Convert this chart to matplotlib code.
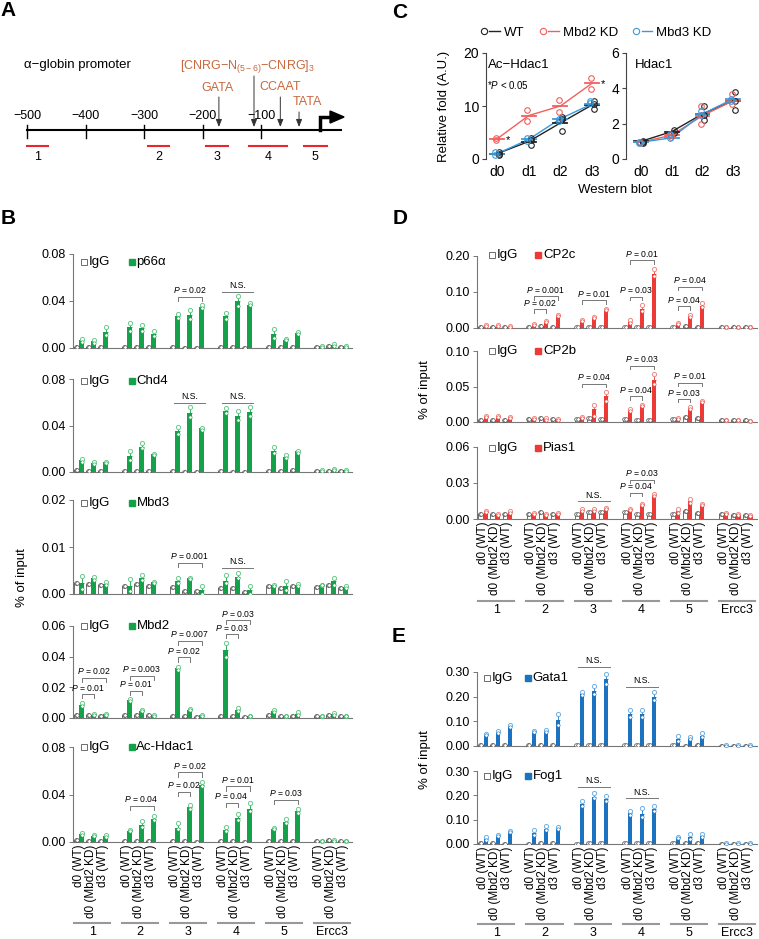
import numpy as np
import matplotlib
matplotlib.use('Agg')
from matplotlib import pyplot as plt
from matplotlib.patches import Polygon
from matplotlib.ticker import FormatStrFormatter
from matplotlib.transforms import blended_transform_factory
from matplotlib.legend_handler import HandlerTuple

plt.rcParams['font.family'] = ['Liberation Sans', 'DejaVu Sans']
plt.rcParams['mathtext.fontset'] = 'custom'
plt.rcParams['mathtext.rm'] = 'Liberation Sans'
plt.rcParams['mathtext.it'] = 'Liberation Sans:italic'

# ---------------- data ----------------
groups = ['1', '2', '3', '4', '5', 'Ercc3']
conditions = ['d0 (WT)', 'd0 (Mbd2 KD)', 'd3 (WT)']

# A: alpha-globin promoter (bp from TSS)
promoter_ticks = [-500, -400, -300, -200, -100]
amplicons = [(-500, -464), (-293, -257), (-194, -157), (-120, -56), (-27, 12)]
motif_pos = [-172, -112, -67, -35]
motif_label_x = [-174, -124, -67, -21]
motif_names = ['GATA', r'[CNRG−N$_{\mathregular{(5-6)}}$−CNRG]$_{\mathregular{3}}$', 'CCAAT', 'TATA']

# C: western blot quantification
days = ['d0', 'd1', 'd2', 'd3']
ach_wt = [1.0, 3.3, 6.8, 10.2]
ach_wt_pts = [[1.0, 1.3, 0.8], [2.7, 3.6, 4.0], [8.0, 7.5, 5.3], [11.0, 10.3, 9.5]]
ach_mbd2 = [3.8, 8.2, 10.0, 14.3]
ach_mbd2_pts = [[4.0, 3.6], [9.2, 7.1], [11.2, 8.9], [15.2, 13.3]]
ach_mbd3 = [1.0, 3.7, 7.6, 10.4]
ach_mbd3_pts = [[1.3, 0.7], [4.0, 3.4], [7.5, 7.2], [11.0, 10.5]]
hdac_wt = [1.0, 1.55, 2.55, 3.3]
hdac_wt_pts = [[1.0, 0.95, 0.9], [1.65, 1.5], [3.0, 2.2, 2.5], [3.8, 3.3, 2.8]]
hdac_mbd2 = [0.95, 1.35, 2.45, 3.3]
hdac_mbd2_pts = [[0.95, 0.9], [1.35, 1.25], [2.0, 2.5, 3.0], [3.7, 3.1]]
hdac_mbd3 = [0.95, 1.2, 2.55, 3.4]
hdac_mbd3_pts = [[0.95, 0.9], [1.2, 1.4], [2.5, 2.7], [3.4, 3.3]]

# B: ChIP, % of input (IgG, antibody mean, replicate high, replicate low)
p66a_igg = [0.0012, 0.001, 0.0012, 0.0008, 0.001, 0.001, 0.001, 0.0003, 0.0003, 0.001, 0.0005, 0.0003, 0.001, 0.0008, 0.001, 0.0008, 0.0015, 0.0008]
p66a_mean = [0.0065, 0.0058, 0.014, 0.0175, 0.017, 0.012, 0.027, 0.028, 0.035, 0.027, 0.040, 0.037, 0.012, 0.007, 0.0125, 0.0013, 0.0024, 0.0013]
p66a_hi = [0.0075, 0.007, 0.018, 0.021, 0.0195, 0.0147, 0.029, 0.0325, 0.037, 0.0295, 0.044, 0.0385, 0.016, 0.0078, 0.0132, 0.0016, 0.003, 0.0016]
p66a_lo = [0.0055, 0.0045, 0.011, 0.0145, 0.0145, 0.0098, 0.0255, 0.0245, 0.034, 0.025, 0.036, 0.0365, 0.0085, 0.0065, 0.0122, 0.001, 0.0018, 0.001]
p66a_p = [(2, 0, 2, 0.0438, 'P = 0.02'), (3, 0, 2, 0.048, 'N.S.')]

chd4_igg = [0.0015, 0.001, 0.001, 0.001, 0.001, 0.0012, 0.0005, 0.0003, 0.0003, 0.0005, 0.0003, 0.0003, 0.0012, 0.0005, 0.0015, 0.0008, 0.0012, 0.0008]
chd4_mean = [0.010, 0.0077, 0.0086, 0.0134, 0.0214, 0.0154, 0.0354, 0.0507, 0.0377, 0.0528, 0.048, 0.0519, 0.0183, 0.0129, 0.0177, 0.0013, 0.002, 0.0015]
chd4_hi = [0.011, 0.0085, 0.0087, 0.0177, 0.025, 0.0157, 0.039, 0.0556, 0.038, 0.0548, 0.0528, 0.056, 0.0214, 0.0149, 0.0178, 0.0015, 0.0022, 0.0018]
chd4_lo = [0.0086, 0.007, 0.008, 0.0106, 0.0206, 0.015, 0.033, 0.0476, 0.036, 0.0506, 0.0445, 0.048, 0.0163, 0.012, 0.0163, 0.001, 0.0015, 0.0012]
chd4_p = [(2, 0, 2, 0.0596, 'N.S.'), (3, 0, 2, 0.0596, 'N.S.')]

mbd3_igg = [0.0023, 0.0022, 0.002, 0.0018, 0.0022, 0.0018, 0.0014, 0.0007, 0.0006, 0.0013, 0.0013, 0.0004, 0.0017, 0.0013, 0.0017, 0.0015, 0.0019, 0.0012]
mbd3_mean = [0.0023, 0.0034, 0.0022, 0.0016, 0.0034, 0.0025, 0.0027, 0.0034, 0.0009, 0.0028, 0.0037, 0.0008, 0.0019, 0.0018, 0.0019, 0.002, 0.0027, 0.0015]
mbd3_hi = [0.0039, 0.0036, 0.0025, 0.0032, 0.0041, 0.0025, 0.0034, 0.0034, 0.0018, 0.0041, 0.0044, 0.0016, 0.002, 0.0027, 0.0022, 0.002, 0.0034, 0.0016]
mbd3_lo = [0.0011, 0.003, 0.0019, 0.0006, 0.003, 0.0023, 0.0023, 0.0032, 0.0001, 0.0023, 0.0034, 0.0, 0.0018, 0.0009, 0.0017, 0.0019, 0.0019, 0.0013]
mbd3_p = [(2, 0, 2, 0.0067, 'P = 0.001'), (3, 0, 2, 0.0055, 'N.S.')]

mbd2_igg = [0.002, 0.0018, 0.0015, 0.0018, 0.0018, 0.0018, 0.0015, 0.001, 0.0008, 0.0013, 0.0013, 0.0005, 0.0017, 0.0012, 0.0013, 0.0013, 0.0017, 0.0012]
mbd2_mean = [0.0086, 0.0022, 0.0023, 0.0119, 0.0048, 0.0015, 0.0324, 0.0054, 0.0017, 0.0443, 0.0054, 0.0013, 0.0045, 0.0013, 0.0028, 0.0012, 0.0025, 0.0012]
mbd2_hi = [0.0097, 0.0025, 0.0028, 0.0125, 0.005, 0.0017, 0.0335, 0.0057, 0.002, 0.0492, 0.0062, 0.0015, 0.005, 0.0015, 0.0037, 0.0014, 0.003, 0.0014]
mbd2_lo = [0.008, 0.002, 0.0018, 0.0108, 0.0045, 0.0013, 0.0313, 0.005, 0.0015, 0.0395, 0.0047, 0.0011, 0.004, 0.0011, 0.0022, 0.001, 0.002, 0.001]
mbd2_p = [(0, 0, 1, 0.0155, 'P = 0.01'), (0, 0, 2, 0.0263, 'P = 0.02'),
          (1, 0, 1, 0.0177, 'P = 0.01'), (1, 0, 2, 0.0274, 'P = 0.003'),
          (2, 0, 1, 0.0395, 'P = 0.02'), (2, 0, 2, 0.0503, 'P = 0.007'),
          (3, 0, 1, 0.0546, 'P = 0.03'), (3, 0, 2, 0.0637, 'P = 0.03')]

achip_igg = [0.0015, 0.001, 0.0012, 0.001, 0.0012, 0.0012, 0.0012, 0.0005, 0.0003, 0.0012, 0.0008, 0.0003, 0.0012, 0.001, 0.0012, 0.0012, 0.0015, 0.0008]
achip_mean = [0.0067, 0.0053, 0.0048, 0.0096, 0.014, 0.0197, 0.0121, 0.0292, 0.0483, 0.0104, 0.0202, 0.0278, 0.0112, 0.0166, 0.0258, 0.0008, 0.0012, 0.001]
achip_hi = [0.0073, 0.006, 0.0058, 0.0098, 0.0174, 0.022, 0.0157, 0.0309, 0.0503, 0.0124, 0.0239, 0.0329, 0.0115, 0.0194, 0.028, 0.001, 0.0014, 0.0012]
achip_lo = [0.006, 0.0048, 0.004, 0.0093, 0.0124, 0.0188, 0.011, 0.028, 0.0469, 0.0096, 0.0188, 0.0258, 0.011, 0.016, 0.0244, 0.0006, 0.001, 0.0008]
achip_p = [(1, 0, 2, 0.0306, 'P = 0.04'), (2, 0, 1, 0.0421, 'P = 0.02'), (2, 0, 2, 0.0587, 'P = 0.02'),
           (3, 0, 1, 0.0329, 'P = 0.04'), (3, 0, 2, 0.0469, 'P = 0.01'), (4, 0, 2, 0.0357, 'P = 0.03')]

# D
cp2c_igg = [0.003, 0.003, 0.003, 0.003, 0.005, 0.004, 0.003, 0.004, 0.004, 0.003, 0.003, 0.004, 0.003, 0.005, 0.004, 0.002, 0.002, 0.002]
cp2c_mean = [0.007, 0.0065, 0.004, 0.009, 0.019, 0.035, 0.021, 0.029, 0.053, 0.017, 0.054, 0.149, 0.012, 0.033, 0.062, 0.003, 0.003, 0.003]
cp2c_hi = [0.008, 0.0075, 0.0045, 0.010, 0.020, 0.037, 0.022, 0.030, 0.054, 0.023, 0.063, 0.165, 0.013, 0.036, 0.069, 0.0035, 0.0035, 0.0035]
cp2c_lo = [0.006, 0.0055, 0.0035, 0.008, 0.017, 0.033, 0.019, 0.027, 0.050, 0.014, 0.046, 0.144, 0.011, 0.031, 0.059, 0.0025, 0.0025, 0.0025]
cp2c_p = [(1, 0, 1, 0.052, 'P = 0.02'), (1, 0, 2, 0.088, 'P = 0.001'), (2, 0, 2, 0.077, 'P = 0.01'),
          (3, 0, 1, 0.086, 'P = 0.03'), (3, 0, 2, 0.188, 'P = 0.01'),
          (4, 0, 1, 0.060, 'P = 0.04'), (4, 0, 2, 0.114, 'P = 0.04')]

cp2b_igg = [0.003, 0.003, 0.003, 0.004, 0.005, 0.004, 0.004, 0.005, 0.004, 0.004, 0.003, 0.003, 0.004, 0.007, 0.005, 0.003, 0.003, 0.003]
cp2b_mean = [0.0075, 0.008, 0.0065, 0.005, 0.004, 0.0035, 0.006, 0.018, 0.036, 0.017, 0.023, 0.059, 0.005, 0.0195, 0.029, 0.003, 0.003, 0.0015]
cp2b_hi = [0.0085, 0.009, 0.0075, 0.006, 0.005, 0.004, 0.0065, 0.024, 0.042, 0.019, 0.024, 0.067, 0.006, 0.021, 0.030, 0.0035, 0.0035, 0.002]
cp2b_lo = [0.007, 0.0075, 0.006, 0.0045, 0.003, 0.003, 0.0055, 0.009, 0.030, 0.016, 0.023, 0.054, 0.0045, 0.019, 0.028, 0.0025, 0.0025, 0.001]
cp2b_p = [(2, 0, 2, 0.054, 'P = 0.04'), (3, 0, 1, 0.036, 'P = 0.04'), (3, 0, 2, 0.079, 'P = 0.03'),
          (4, 0, 1, 0.032, 'P = 0.03'), (4, 0, 2, 0.055, 'P = 0.01')]

pias1_igg = [0.004, 0.004, 0.004, 0.004, 0.006, 0.004, 0.004, 0.006, 0.006, 0.006, 0.0045, 0.004, 0.0045, 0.007, 0.005, 0.004, 0.003, 0.003]
pias1_mean = [0.006, 0.004, 0.0055, 0.0045, 0.0035, 0.0045, 0.0075, 0.0075, 0.009, 0.0078, 0.012, 0.0203, 0.0065, 0.0147, 0.012, 0.0045, 0.0035, 0.003]
pias1_hi = [0.0065, 0.0045, 0.0065, 0.005, 0.004, 0.005, 0.008, 0.008, 0.0095, 0.008, 0.0125, 0.021, 0.0085, 0.0165, 0.0125, 0.005, 0.004, 0.0035]
pias1_lo = [0.0055, 0.0035, 0.005, 0.004, 0.003, 0.004, 0.007, 0.007, 0.0085, 0.0075, 0.0115, 0.0195, 0.005, 0.013, 0.0115, 0.004, 0.003, 0.0025]
pias1_p = [(2, 0, 2, 0.0147, 'N.S.'), (3, 0, 1, 0.0217, 'P = 0.04'), (3, 0, 2, 0.0328, 'P = 0.03')]

# E
gata1_igg = [0.004, 0.004, 0.003, 0.004, 0.003, 0.006, 0.004, 0.003, 0.006, 0.003, 0.003, 0.003, 0.003, 0.002, 0.003, 0.002, 0.002, 0.002]
gata1_mean = [0.046, 0.055, 0.082, 0.061, 0.061, 0.105, 0.21, 0.224, 0.273, 0.13, 0.13, 0.198, 0.03, 0.03, 0.041, 0.002, 0.002, 0.002]
gata1_hi = [0.050, 0.060, 0.086, 0.062, 0.066, 0.128, 0.22, 0.244, 0.293, 0.146, 0.146, 0.217, 0.040, 0.035, 0.053, 0.0025, 0.0025, 0.0025]
gata1_lo = [0.045, 0.053, 0.078, 0.058, 0.056, 0.085, 0.205, 0.211, 0.252, 0.119, 0.119, 0.187, 0.020, 0.028, 0.037, 0.0015, 0.0015, 0.0015]
gata1_p = [(2, 0, 2, 0.321, 'N.S.'), (3, 0, 2, 0.239, 'N.S.')]

fog1_igg = [0.005, 0.005, 0.002, 0.002, 0.003, 0.006, 0.002, 0.003, 0.006, 0.003, 0.003, 0.003, 0.003, 0.003, 0.003, 0.002, 0.002, 0.002]
fog1_mean = [0.02, 0.034, 0.05, 0.045, 0.062, 0.065, 0.164, 0.194, 0.185, 0.126, 0.123, 0.143, 0.025, 0.027, 0.031, 0.002, 0.002, 0.002]
fog1_hi = [0.027, 0.037, 0.053, 0.058, 0.073, 0.069, 0.178, 0.208, 0.198, 0.134, 0.147, 0.157, 0.027, 0.042, 0.042, 0.0025, 0.0025, 0.0025]
fog1_lo = [0.016, 0.031, 0.048, 0.035, 0.057, 0.062, 0.156, 0.187, 0.178, 0.12, 0.113, 0.134, 0.023, 0.02, 0.027, 0.0015, 0.0015, 0.0015]
fog1_p = [(2, 0, 2, 0.235, 'N.S.'), (3, 0, 2, 0.187, 'N.S.')]

# ---------------- style ----------------
GREEN, GREEN_L = '#13A24A', '#6CCB8C'
RED, RED_L = '#EE3A36', '#F28A85'
BLUE, BLUE_L = '#1B72C0', '#6FB2E6'
ORANGE = '#C8693F'
AXIS = '#777777'

W, H = 759, 939
fig = plt.figure(figsize=(W / 100, H / 100), dpi=100)


def rect(left, top, right, bottom):
    # pixel box -> figure fraction
    return [left / W, 1 - bottom / H, (right - left) / W, (bottom - top) / H]


def ptext(t):
    if t.startswith('P'):
        return r'$\mathit{P}$' + t[1:]
    return t


def chip(box, igg, mean, hi, lo, ymax, step, color, light, name, pvals,
         leg_y=0.98, leg_x=(0.04, 0.21), group_line=None):
    ax = fig.add_axes(rect(*box))
    pair_x = np.array([4 * g + c - 1 for g in range(len(groups)) for c in range(3)], float)
    x_igg = pair_x - 0.21
    x_ab = pair_x + 0.21
    mean = np.array(mean)
    ax.bar(x_igg, igg, width=0.34, color='white', edgecolor='#555555', linewidth=0.6, zorder=2)
    ax.bar(x_ab, mean, width=0.34, color=color, linewidth=0, zorder=2)
    err = np.clip(np.array(hi) - mean, 0, None)
    ax.errorbar(x_ab, mean, yerr=[np.zeros(len(err)), err], fmt='none', ecolor=color,
                elinewidth=0.6, capsize=1.1, capthick=0.6, zorder=3)
    ax.plot(x_ab, hi, 'o', ms=3, mfc='white', mec=light, mew=0.7, zorder=4, clip_on=False)
    ax.plot(x_ab, lo, 'o', ms=2.4, mfc='white', mec=color, mew=0.4, zorder=4)
    ax.plot(x_igg - 0.06, igg, 'o', ms=2.6, mfc='white', mec='#444444', mew=0.5, zorder=4)
    ax.plot(x_igg + 0.06, igg, 'o', ms=2.6, mfc='white', mec='#444444', mew=0.5, zorder=4)

    # significance brackets
    d = ymax * 0.045
    for g, i, j, y, t in pvals:
        x1 = 4 * g + i - 1 + 0.21
        x2 = 4 * g + j - 1 + 0.21
        if t == 'N.S.':
            ax.plot([x1 - 0.3, x2 + 0.3], [y, y], color='#777777', lw=0.7, clip_on=False)
        else:
            ax.plot([x1, x1, x2, x2], [y - d, y, y, y - d], color='#777777', lw=0.7, clip_on=False)
        ax.annotate(ptext(t), ((x1 + x2) / 2, y), xytext=(0, 1.2), textcoords='offset points',
                    ha='center', va='bottom', fontsize=6.2, annotation_clip=False)

    # legend
    ax.plot([leg_x[0]], [leg_y], 's', ms=5, mfc='white', mec='#555555', mew=0.6,
            transform=ax.transAxes, clip_on=False)
    ax.annotate('IgG', (leg_x[0], leg_y), xycoords='axes fraction', xytext=(3.5, 0),
                textcoords='offset points', va='center', fontsize=9.5)
    ax.plot([leg_x[1]], [leg_y], 's', ms=5, color=color, transform=ax.transAxes, clip_on=False)
    ax.annotate(name, (leg_x[1], leg_y), xycoords='axes fraction', xytext=(3.5, 0),
                textcoords='offset points', va='center', fontsize=9.5)

    ax.set_xlim(-1.5, 21.75)
    ax.set_ylim(0, ymax)
    ax.set_yticks(np.arange(0, ymax + step / 2, step))
    ax.yaxis.set_major_formatter(FormatStrFormatter('%.2f'))
    for s in ['top', 'right']:
        ax.spines[s].set_visible(False)
    for s in ['left', 'bottom']:
        ax.spines[s].set_color(AXIS)
        ax.spines[s].set_linewidth(0.8)
    ax.tick_params(axis='y', length=3, width=0.7, color=AXIS, labelsize=9, pad=2)
    if group_line is None:
        ax.set_xticks([])
    else:
        ax.set_xticks(pair_x)
        ax.set_xticklabels(conditions * len(groups), rotation=90, fontsize=8.5)
        ax.tick_params(axis='x', length=0, pad=2)
        tr = blended_transform_factory(ax.transData, ax.transAxes)
        for g, gname in enumerate(groups):
            ax.plot([4 * g - 1.4, 4 * g + 1.6], [group_line, group_line], color='#999999',
                    lw=1.5, transform=tr, clip_on=False)
            ax.annotate(gname, (4 * g + 0.1, group_line), xycoords=tr, xytext=(0, -2),
                        textcoords='offset points', ha='center', va='top', fontsize=9)
    return ax


# ---------------- panel A ----------------
ax_a = fig.add_axes(rect(0, 0, 380, 200))
ax_a.set_xlim(-546.2, 103.4)
ax_a.set_ylim(200, 0)
ax_a.axis('off')
ax_a.plot([-500, 36], [130, 130], color='k', lw=1.5)
for t in promoter_ticks:
    ax_a.plot([t, t], [125, 138], color='k', lw=1)
    ax_a.text(t, 116, '−%d' % abs(t), ha='center', va='center', fontsize=9)
for k, (s, e) in enumerate(amplicons):
    ax_a.plot([s, e], [146, 146], color='#E8262B', lw=1.5)
    ax_a.text((s + e) / 2, 157, str(k + 1), ha='center', va='center', fontsize=9)
arrow_top = [97, 76, 97, 112]
label_y = [88, 67, 87, 102]
for x, lx, name, y0, ly in zip(motif_pos, motif_label_x, motif_names, arrow_top, label_y):
    ax_a.annotate('', xy=(x, 127), xytext=(x, y0),
                  arrowprops=dict(arrowstyle='-|>,head_width=0.18,head_length=0.45', lw=0.7,
                                  color='#333333', shrinkA=0, shrinkB=0))
    ax_a.text(lx, ly, name, ha='center', va='center', fontsize=9, color=ORANGE)
ax_a.text(-505, 65, 'α−globin promoter', ha='left', va='center', fontsize=9.5)
# transcription start site arrow
ax_a.plot([0, 0, 22], [130, 117, 117], color='k', lw=2.5, solid_joinstyle='miter')
ax_a.add_patch(Polygon([[18, 111], [18, 123], [42, 117]], closed=True, color='k'))

# ---------------- panel C ----------------
ax_c1 = fig.add_axes(rect(486, 53, 600, 159))
ax_c2 = fig.add_axes(rect(626, 53, 747, 159))
series_c = [
    (ax_c1, [(ach_wt, ach_wt_pts, '#222222', 0.06), (ach_mbd2, ach_mbd2_pts, '#F0605D', -0.04),
             (ach_mbd3, ach_mbd3_pts, '#3A9AD9', -0.06)]),
    (ax_c2, [(hdac_wt, hdac_wt_pts, '#222222', 0.06), (hdac_mbd2, hdac_mbd2_pts, '#F0605D', -0.04),
             (hdac_mbd3, hdac_mbd3_pts, '#3A9AD9', -0.06)]),
]
for ax, ser in series_c:
    x = np.arange(len(days))
    for means, pts, col, off in ser:
        ax.plot(x, means, '-', color=col, lw=1, zorder=2)
        for xi, m, p in zip(x, means, pts):
            ax.plot([xi - 0.22, xi + 0.22], [m, m], color=col, lw=1.3, zorder=3)
            ax.plot([xi + off] * len(p), p, 'o', ms=4, mfc='none', mec=col, mew=0.8, zorder=4)
    ax.set_xticks(x)
    ax.set_xticklabels(days)
    for s in ['top', 'right', 'bottom']:
        ax.spines[s].set_visible(False)
    ax.spines['left'].set_color('#444444')
    ax.tick_params(axis='x', length=0, labelsize=10, pad=4)
    ax.tick_params(axis='y', length=3, color='#444444', labelsize=10, pad=2)

ax_c1.set_xlim(-0.35, 3.25)
ax_c1.set_ylim(0, 20)
ax_c1.set_yticks([0, 10, 20])
ax_c1.set_ylabel('Relative fold (A.U.)', fontsize=9.5)
ax_c1.yaxis.set_label_coords(-0.32, 0.5)
ax_c1.text(0.02, 0.89, 'Ac−Hdac1', transform=ax_c1.transAxes, fontsize=9.5, va='center')
ax_c1.text(0.01, 0.7, r'*$\mathit{P}$ < 0.05', transform=ax_c1.transAxes, fontsize=7, va='center')
ax_c1.text(0.35, 3.6, '*', fontsize=8, ha='center', va='center')
ax_c1.text(3.34, 14.2, '*', fontsize=8, ha='center', va='center', clip_on=False)

ax_c2.set_xlim(-0.49, 3.45)
ax_c2.set_ylim(0, 6)
ax_c2.set_yticks([0, 2, 4, 6])
ax_c2.text(0.07, 0.89, 'Hdac1', transform=ax_c2.transAxes, fontsize=9.5, va='center')
fig.text(615 / W, 1 - 190 / H, 'Western blot', ha='center', va='center', fontsize=9.5)

handles = [(plt.Line2D([], [], ls='none', marker='o', mfc='none', mec=c, mew=0.8, ms=4.5),
            plt.Line2D([], [], color=c, lw=1)) for c in ['#222222', '#F0605D', '#3A9AD9']]
fig.legend(handles, ['WT', 'Mbd2 KD', 'Mbd3 KD'], loc='center', bbox_to_anchor=(595 / W, 1 - 33 / H),
           ncol=3, frameon=False, fontsize=9.5, handlelength=1.6, handletextpad=0.3, columnspacing=1.0,
           handler_map={tuple: HandlerTuple(ndivide=None, pad=0)})

# ---------------- panel B ----------------
chip((73, 254, 352, 348), p66a_igg, p66a_mean, p66a_hi, p66a_lo, 0.08, 0.04, GREEN, GREEN_L, 'p66α', p66a_p, leg_y=0.92)
chip((73, 379, 352, 472), chd4_igg, chd4_mean, chd4_hi, chd4_lo, 0.08, 0.04, GREEN, GREEN_L, 'Chd4', chd4_p)
chip((73, 500, 352, 594), mbd3_igg, mbd3_mean, mbd3_hi, mbd3_lo, 0.02, 0.01, GREEN, GREEN_L, 'Mbd3', mbd3_p, leg_y=0.97)
chip((73, 626, 352, 718), mbd2_igg, mbd2_mean, mbd2_hi, mbd2_lo, 0.06, 0.02, GREEN, GREEN_L, 'Mbd2', mbd2_p, leg_y=1.0)
chip((73, 747, 352, 842), achip_igg, achip_mean, achip_hi, achip_lo, 0.08, 0.04, GREEN, GREEN_L, 'Ac-Hdac1', achip_p,
     leg_y=1.0, group_line=-0.85)
fig.text(22 / W, 1 - 578 / H, '% of input', rotation=90, ha='center', va='center', fontsize=9.5)

# ---------------- panel D ----------------
chip((477, 256, 757, 328), cp2c_igg, cp2c_mean, cp2c_hi, cp2c_lo, 0.20, 0.10, RED, RED_L, 'CP2c', cp2c_p,
     leg_y=1.02, leg_x=(0.054, 0.218))
chip((477, 351, 757, 422), cp2b_igg, cp2b_mean, cp2b_hi, cp2b_lo, 0.10, 0.05, RED, RED_L, 'CP2b', cp2b_p,
     leg_y=1.0, leg_x=(0.054, 0.218))
chip((477, 447, 757, 519), pias1_igg, pias1_mean, pias1_hi, pias1_lo, 0.06, 0.03, RED, RED_L, 'Pias1', pias1_p,
     leg_y=0.99, leg_x=(0.054, 0.218), group_line=-1.14)
fig.text(425 / W, 1 - 390 / H, '% of input', rotation=90, ha='center', va='center', fontsize=9.5)

# ---------------- panel E ----------------
chip((477, 672, 757, 746), gata1_igg, gata1_mean, gata1_hi, gata1_lo, 0.30, 0.10, BLUE, BLUE_L, 'Gata1', gata1_p,
     leg_y=0.92, leg_x=(0.036, 0.182))
chip((477, 771, 757, 844), fog1_igg, fog1_mean, fog1_hi, fog1_lo, 0.30, 0.10, BLUE, BLUE_L, 'Fog1', fog1_p,
     leg_y=0.93, leg_x=(0.036, 0.182), group_line=-1.1)
fig.text(425 / W, 1 - 760 / H, '% of input', rotation=90, ha='center', va='center', fontsize=9.5)

# panel letters
for letter, x, y in [('A', 8, 11), ('B', 8, 218), ('C', 400, 12), ('D', 400, 218), ('E', 399, 637)]:
    fig.text(x / W, 1 - y / H, letter, ha='center', va='center', fontsize=15, weight='bold')

fig.savefig('out.png', dpi=100)
